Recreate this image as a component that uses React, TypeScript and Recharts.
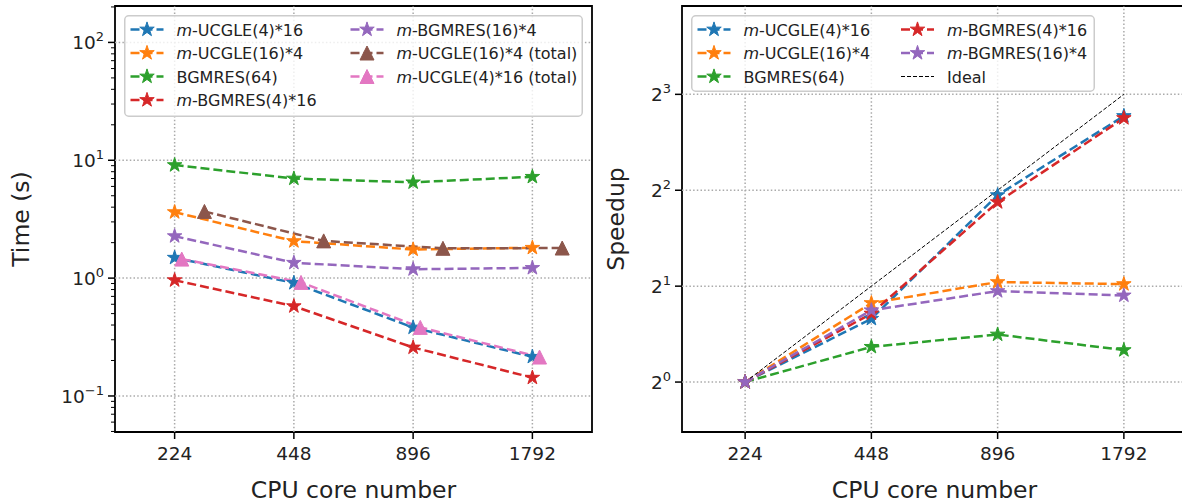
import React from 'react';
import { LineChart, Line, XAxis, YAxis, ReferenceLine, ReferenceArea, Legend } from 'recharts';

// ---------- data ----------
const coreLabels = ['224', '448', '896', '1792'];

// Left panel: time (s)
const timeUcgle4x16 = [1.49, 0.91, 0.381, 0.215];
const timeUcgle16x4 = [3.63, 2.06, 1.75, 1.81];
const timeBgmres64 = [9.1, 7.0, 6.5, 7.24];
const timeBgmres4x16 = [0.96, 0.578, 0.258, 0.143];
const timeBgmres16x4 = [2.27, 1.35, 1.19, 1.22];
const timeUcgle16x4Total = [3.68, 2.07, 1.79, 1.8];
const timeUcgle4x16Total = [1.45, 0.92, 0.382, 0.214];
// x shift (in category units) of the "total" series
const shiftUcgle16x4Total = 0.25;
const shiftUcgle4x16Total = 0.06;

// Right panel: speedup
const speedUcgle4x16 = [1, 1.58, 3.86, 6.84];
const speedUcgle16x4 = [1, 1.77, 2.06, 2.03];
const speedBgmres64 = [1, 1.29, 1.41, 1.26];
const speedBgmres4x16 = [1, 1.64, 3.67, 6.74];
const speedBgmres16x4 = [1, 1.68, 1.93, 1.87];
const speedIdeal = [1, 2, 4, 8];

const xTicks = [0, 1, 2, 3];
const timeMajorTicks = [0.1, 1, 10, 100];
const timeMinorTicks = [0.05, 0.06, 0.07, 0.08, 0.09, 0.2, 0.3, 0.4, 0.5, 0.6, 0.7, 0.8, 0.9,
  2, 3, 4, 5, 6, 7, 8, 9, 20, 30, 40, 50, 60, 70, 80, 90, 200];
const speedTicks = [1, 2, 4, 8];

// ---------- styles ----------
const C = {
  blue: '#1f77b4', orange: '#ff7f0e', green: '#2ca02c', red: '#d62728',
  purple: '#9467bd', brown: '#8c564b', pink: '#e377c2',
};
const FONT = 'DejaVu Sans, sans-serif';
const DASH = '9 4';
const LW = 2.5;
const GRID = { stroke: '#aaaaaa', strokeWidth: 1.5, strokeDasharray: '1.5 2.2' };

type Series = { name: string; italicM: boolean; color: string; marker: 'star' | 'tri' | 'none'; values: number[]; shift: number; ideal?: boolean };

const leftSeries: Series[] = [
  { name: '-UCGLE(4)*16', italicM: true, color: C.blue, marker: 'star', values: timeUcgle4x16, shift: 0 },
  { name: '-UCGLE(16)*4', italicM: true, color: C.orange, marker: 'star', values: timeUcgle16x4, shift: 0 },
  { name: 'BGMRES(64)', italicM: false, color: C.green, marker: 'star', values: timeBgmres64, shift: 0 },
  { name: '-BGMRES(4)*16', italicM: true, color: C.red, marker: 'star', values: timeBgmres4x16, shift: 0 },
  { name: '-BGMRES(16)*4', italicM: true, color: C.purple, marker: 'star', values: timeBgmres16x4, shift: 0 },
  { name: '-UCGLE(16)*4 (total)', italicM: true, color: C.brown, marker: 'tri', values: timeUcgle16x4Total, shift: shiftUcgle16x4Total },
  { name: '-UCGLE(4)*16 (total)', italicM: true, color: C.pink, marker: 'tri', values: timeUcgle4x16Total, shift: shiftUcgle4x16Total },
];

const rightSeries: Series[] = [
  { name: '-UCGLE(4)*16', italicM: true, color: C.blue, marker: 'star', values: speedUcgle4x16, shift: 0 },
  { name: '-UCGLE(16)*4', italicM: true, color: C.orange, marker: 'star', values: speedUcgle16x4, shift: 0 },
  { name: 'BGMRES(64)', italicM: false, color: C.green, marker: 'star', values: speedBgmres64, shift: 0 },
  { name: '-BGMRES(4)*16', italicM: true, color: C.red, marker: 'star', values: speedBgmres4x16, shift: 0 },
  { name: '-BGMRES(16)*4', italicM: true, color: C.purple, marker: 'star', values: speedBgmres16x4, shift: 0 },
  { name: 'Ideal', italicM: false, color: '#000000', marker: 'none', values: speedIdeal, shift: 0, ideal: true },
];

function starPath(cx: number, cy: number, R: number) {
  const r = R * 0.382;
  let d = '';
  for (let k = 0; k < 10; k++) {
    const a = -Math.PI / 2 + (k * Math.PI) / 5;
    const rad = k % 2 === 0 ? R : r;
    d += (k === 0 ? 'M' : 'L') + (cx + rad * Math.cos(a)).toFixed(2) + ',' + (cy + rad * Math.sin(a)).toFixed(2);
  }
  return d + 'Z';
}
function triPath(cx: number, cy: number, a: number) {
  return `M${cx},${cy - a}L${cx - a},${cy + a}L${cx + a},${cy + a}Z`;
}
function Marker({ kind, cx, cy, color }: { kind: string; cx: number; cy: number; color: string }) {
  if (kind === 'star') return <path d={starPath(cx, cy, 7.6)} fill={color} stroke={color} strokeWidth={1} strokeLinejoin="miter" />;
  if (kind === 'tri') return <path d={triPath(cx, cy, 7)} fill={color} stroke={color} strokeWidth={1} />;
  return null;
}

const makeDot = (s: Series) => (props: any) => {
  const { cx, cy, index } = props;
  if (cx == null || cy == null) return <g key={`d-${index}`} />;
  return <g key={`d-${index}`}><Marker kind={s.marker} cx={cx} cy={cy} color={s.color} /></g>;
};

// ---------- ticks ----------
const XTick = (props: any) => {
  const { x, y, payload } = props;
  return (
    <g>
      <line x1={x} y1={y} x2={x} y2={y + 7} stroke="#000" strokeWidth={1.5} />
      <text x={x} y={y + 28} textAnchor="middle" fontFamily={FONT} fontSize={18.5} fill="#222">
        {coreLabels[payload.value]}
      </text>
    </g>
  );
};

const TimeTick = (props: any) => {
  const { x, y, payload } = props;
  const v = payload.value as number;
  const major = timeMajorTicks.some((t) => Math.abs(t - v) / t < 1e-6);
  if (!major) return <line x1={x - 4} y1={y} x2={x} y2={y} stroke="#000" strokeWidth={1} />;
  const e = Math.round(Math.log10(v));
  return (
    <g>
      <line x1={x - 7} y1={y} x2={x} y2={y} stroke="#000" strokeWidth={1.5} />
      <text x={x - 11} y={y + 7} textAnchor="end" fontFamily={FONT} fontSize={18.5} fill="#222">
        <tspan>10</tspan>
        <tspan dy={-8} fontSize={13}>{e < 0 ? '\u2212' + Math.abs(e) : String(e)}</tspan>
      </text>
    </g>
  );
};

const SpeedTick = (props: any) => {
  const { x, y, payload } = props;
  const e = Math.round(Math.log2(payload.value));
  return (
    <g>
      <line x1={x - 7} y1={y} x2={x} y2={y} stroke="#000" strokeWidth={1.5} />
      <text x={x - 11} y={y + 7} textAnchor="end" fontFamily={FONT} fontSize={18.5} fill="#222">
        <tspan>2</tspan>
        <tspan dy={-8} fontSize={13}>{String(e)}</tspan>
      </text>
    </g>
  );
};

const XTitle = (props: any) => {
  const vb = props.viewBox;
  return (
    <text x={vb.x + vb.width / 2} y={vb.y + 66} textAnchor="middle" fontFamily={FONT} fontSize={23.5} fill="#222">
      CPU core number
    </text>
  );
};
const YTitle = (text: string, xPos: number) => (props: any) => {
  const vb = props.viewBox;
  const cy = vb.y + vb.height / 2;
  return (
    <text x={xPos} y={cy} transform={`rotate(-90 ${xPos} ${cy})`} textAnchor="middle" fontFamily={FONT} fontSize={23.5} fill="#222">
      {text}
    </text>
  );
};

// ---------- legend ----------
function LegendBox({ series, rows, width, height, col2Handle, textOff }: { series: Series[]; rows: number; width: number; height: number; col2Handle: number; textOff: number }) {
  return (
    <svg width={width} height={height} style={{ display: 'block', overflow: 'visible' }}>
      <rect x={0.75} y={0.75} width={width - 1.5} height={height - 1.5} rx={4} ry={4} fill="#ffffff" fillOpacity={0.8} stroke="#cccccc" strokeWidth={1.5} />
      {series.map((s, i) => {
        const col = Math.floor(i / rows);
        const row = i % rows;
        const hx = col === 0 ? 6.5 : col2Handle;
        const cy = 14.5 + row * 23.5;
        const tx = hx + textOff;
        return (
          <g key={i}>
            <line x1={hx} y1={cy} x2={hx + 33} y2={cy} stroke={s.color} strokeWidth={s.ideal ? 1 : LW} strokeDasharray={s.ideal ? '4 2' : DASH} />
            <Marker kind={s.marker} cx={hx + 16.5} cy={cy} color={s.color} />
            <text x={tx} y={cy + 6} fontFamily={FONT} fontSize={16} fill="#222">
              {s.italicM ? <tspan fontStyle="italic">m</tspan> : null}
              <tspan>{s.name}</tspan>
            </text>
          </g>
        );
      })}
    </svg>
  );
}

function seriesData(s: Series) {
  return s.values.map((v, i) => ({ x: i + s.shift, y: v }));
}

export default function App() {
  return (
    <div style={{ position: 'fixed', left: 0, top: 0, width: 1182, height: 504, overflow: 'hidden', background: '#fff' }}>
      {/* Left panel */}
      <div style={{ position: 'absolute', left: 0, top: 0 }}>
        <LineChart width={600} height={504} margin={{ top: 6, right: 8, bottom: 0, left: 0 }}>
          <XAxis type="number" dataKey="x" domain={[-0.5, 3.5]} ticks={xTicks} interval={0} allowDataOverflow
            height={72} tickSize={0} tickMargin={0} tickLine={false} axisLine={false} tick={<XTick />} label={<XTitle />} />
          <YAxis type="number" dataKey="y" scale="log" domain={[0.04947, 203.7]} allowDataOverflow
            ticks={[...timeMinorTicks, ...timeMajorTicks].sort((a, b) => a - b)} interval={0}
            width={115} tickSize={0} tickMargin={0} tickLine={false} axisLine={false} tick={<TimeTick />}
            label={YTitle('Time (s)', 29)} />
          {xTicks.map((t) => <ReferenceLine key={'vx' + t} x={t} {...GRID} />)}
          {timeMajorTicks.map((t) => <ReferenceLine key={'hy' + t} y={t} {...GRID} />)}
          {leftSeries.map((s, i) => (
            <Line key={i} data={seriesData(s)} dataKey="y" name={s.name} stroke={s.color} strokeWidth={LW}
              strokeDasharray={DASH} dot={makeDot(s)} activeDot={false} isAnimationActive={false} />
          ))}
          <ReferenceArea x1={-0.5} x2={3.5} y1={0.04947} y2={203.7} fill="none" stroke="#000" strokeWidth={1.8} ifOverflow="visible" />
          <Legend layout="horizontal" verticalAlign="middle" align="center"
            wrapperStyle={{ left: 124, top: 15, width: 459, height: 102 }}
            content={() => <LegendBox series={leftSeries} rows={4} width={459} height={102} col2Handle={226.5} textOff={46} />} />
        </LineChart>
      </div>
      {/* Right panel */}
      <div style={{ position: 'absolute', left: 600, top: 0 }}>
        <LineChart width={595} height={504} margin={{ top: 6, right: 8, bottom: 0, left: 0 }}>
          <XAxis type="number" dataKey="x" domain={[-0.5, 3.5]} ticks={xTicks} interval={0} allowDataOverflow
            height={72} tickSize={0} tickMargin={0} tickLine={false} axisLine={false} tick={<XTick />} label={<XTitle />} />
          <YAxis type="number" dataKey="y" scale="log" domain={[0.697, 15.15]} allowDataOverflow
            ticks={speedTicks} interval={0}
            width={82} tickSize={0} tickMargin={0} tickLine={false} axisLine={false} tick={<SpeedTick />}
            label={YTitle('Speedup', 24)} />
          {xTicks.map((t) => <ReferenceLine key={'vx' + t} x={t} {...GRID} />)}
          {speedTicks.map((t) => <ReferenceLine key={'hy' + t} y={t} {...GRID} />)}
          {rightSeries.map((s, i) => (
            <Line key={i} data={seriesData(s)} dataKey="y" name={s.name} stroke={s.color}
              strokeWidth={s.ideal ? 1 : LW} strokeDasharray={s.ideal ? '4 2' : DASH}
              dot={s.ideal ? false : makeDot(s)} activeDot={false} isAnimationActive={false} />
          ))}
          <ReferenceArea x1={-0.5} x2={3.5} y1={0.697} y2={15.15} fill="none" stroke="#000" strokeWidth={1.8} ifOverflow="visible" />
          <Legend layout="horizontal" verticalAlign="middle" align="center"
            wrapperStyle={{ left: 91, top: 15, width: 404, height: 77 }}
            content={() => <LegendBox series={rightSeries} rows={3} width={404} height={77} col2Handle={210} textOff={46} />} />
        </LineChart>
      </div>
    </div>
  );
}
